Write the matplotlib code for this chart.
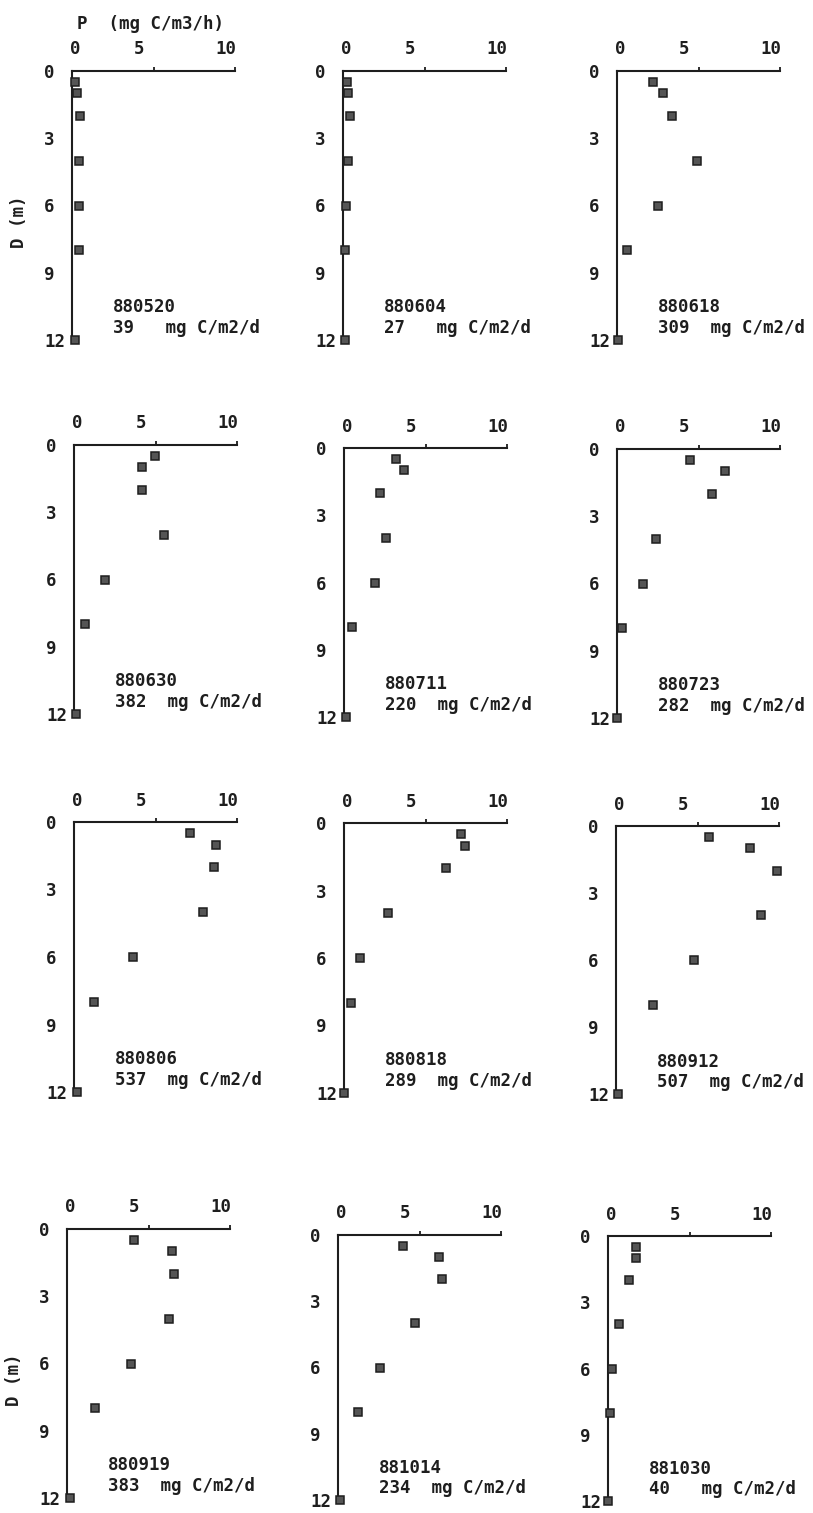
import matplotlib
matplotlib.use("Agg")
import matplotlib.pyplot as plt


# data
DEPTHS = [0.5, 1, 2, 4, 6, 8, 12]
DATES = ["880520", "880604", "880618",
         "880630", "880711", "880723",
         "880806", "880818", "880912",
         "880919", "881014", "881030"]
TOTALS = [39, 27, 309, 382, 220, 282, 537, 289, 507, 383, 234, 40]
P_880520 = [0.2, 0.3, 0.5, 0.4, 0.45, 0.45, 0.2]
P_880604 = [0.25, 0.3, 0.45, 0.3, 0.2, 0.15, 0.15]
P_880618 = [2.2, 2.8, 3.4, 4.9, 2.5, 0.6, 0.05]
P_880630 = [4.95, 4.2, 4.2, 5.5, 1.9, 0.7, 0.1]
P_880711 = [3.2, 3.7, 2.2, 2.6, 1.9, 0.5, 0.1]
P_880723 = [4.5, 6.6, 5.8, 2.4, 1.6, 0.3, 0.0]
P_880806 = [7.1, 8.7, 8.6, 7.9, 3.6, 1.2, 0.2]
P_880818 = [7.2, 7.4, 6.25, 2.7, 1.0, 0.4, 0.0]
P_880912 = [5.7, 8.2, 9.9, 8.9, 4.8, 2.3, 0.15]
P_880919 = [4.1, 6.45, 6.55, 6.25, 3.95, 1.7, 0.2]
P_881014 = [4.0, 6.2, 6.4, 4.7, 2.6, 1.2, 0.15]
P_881030 = [1.7, 1.7, 1.3, 0.7, 0.25, 0.1, 0.0]
PROFILES = [P_880520, P_880604, P_880618, P_880630, P_880711, P_880723,
            P_880806, P_880818, P_880912, P_880919, P_881014, P_881030]

X_LABELS = ["0", "5", "10"]
Y_TICKS = [0, 3, 6, 9, 12]

# layout (pixels of the 813x1513 page), the scan is a bit skewed
W, H = 813, 1513
LEFTS = [72, 343, 617, 74, 344, 617, 74, 344, 616, 67, 338, 608]
TOPS = [71, 71, 71, 445, 448, 449, 822, 823, 826, 1229, 1235, 1236]
HEIGHTS = [269, 269, 269, 269, 269, 269, 270, 270, 268, 269, 265, 265]
AX_W = 163
X_LABEL_POS = [0.2, 4.1, 9.45]   # plotter put the labels a bit off the ticks
INK = "#1e1e1e"
FONT = dict(family="DejaVu Sans Mono", weight="bold", size=12.5, color=INK)


def draw_panel(fig, k):
    ax = fig.add_axes([LEFTS[k] / W, 1 - (TOPS[k] + HEIGHTS[k]) / H,
                       AX_W / W, HEIGHTS[k] / H])
    ax.set_xlim(0, 10)
    ax.set_ylim(12, 0)
    for s in ["bottom", "right"]:
        ax.spines[s].set_visible(False)
    for s in ["top", "left"]:
        ax.spines[s].set_linewidth(1.5)
        ax.spines[s].set_color(INK)

    ax.xaxis.tick_top()
    ax.set_xticks(X_LABEL_POS)
    ax.set_xticklabels(X_LABELS, fontdict=FONT)
    ax.set_xticks([5, 10], minor=True)
    ax.tick_params(axis="x", which="major", length=0, pad=9)
    ax.tick_params(axis="x", which="minor", length=3, width=1.3, color=INK, direction="out")

    ax.set_yticks(Y_TICKS)
    ax.set_yticklabels([str(v) for v in Y_TICKS], fontdict=FONT)
    ax.set_yticks([3, 6, 9, 12], minor=True)
    ax.tick_params(axis="y", which="major", length=0, pad=20)
    ax.tick_params(axis="y", which="minor", length=3, width=1.3, color=INK, direction="out")
    for lbl in ax.get_yticklabels():
        lbl.set_horizontalalignment("left")

    ax.plot(PROFILES[k], DEPTHS, ls="none", marker="s", markersize=5.5,
            markerfacecolor="#555555", markeredgecolor="#1e1e1e",
            markeredgewidth=1.1, clip_on=False, zorder=5)

    ax.text(2.5, 10.55, DATES[k], va="center", ha="left", **FONT)
    ax.text(2.5, 11.45, "%-5dmg C/m2/d" % TOTALS[k], va="center", ha="left", **FONT)

    if k in (0, 9):
        ax.set_ylabel("D (m)", fontdict=FONT)
        ax.yaxis.set_label_coords(-0.27, 0.44)
    if k == 0:
        ax.text(0.3, -2.1, "P  (mg C/m3/h)", va="center", ha="left", **FONT)
    return ax


if __name__ == '__main__':
    fig = plt.figure(figsize=(W / 100, H / 100), dpi=100)
    fig.patch.set_facecolor("white")
    for k in range(len(DATES)):
        draw_panel(fig, k)
    fig.savefig("out.png", dpi=100)
